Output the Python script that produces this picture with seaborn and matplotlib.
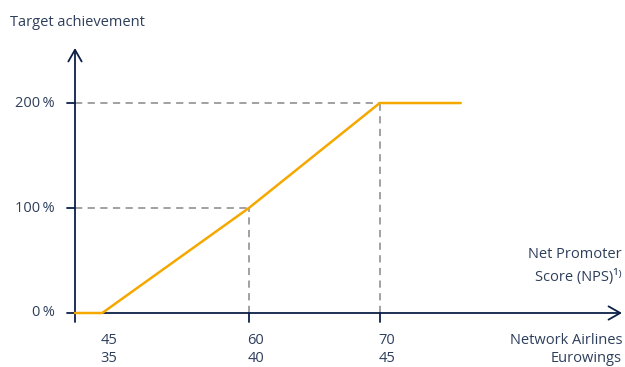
import numpy as np
import matplotlib
matplotlib.use("Agg")
import matplotlib.pyplot as plt
import seaborn as sns

# data
nps_network = [45, 60, 70]
nps_eurowings = [35, 40, 45]
achievement = [0, 100, 200]
tick_text_y = ["0\u2009%", "100\u2009%", "200\u2009%"]

# layout (schematic x positions for the three NPS thresholds)
tick_pos = [0.88, 2.0, 3.0]
x0, x_end, line_end = 0.672, 4.85, 3.618
y_max = 252.4

navy = "#0c2046"
text_c = "#2e3f5c"
orange = "#f5a800"
grey = "#9a9a9a"

sns.set_theme(style="white")
plt.rcParams["font.family"] = ["Open Sans", "DejaVu Sans"]

fig = plt.figure(figsize=(6.25, 3.67), dpi=100)
ax = fig.add_axes([75 / 625, 1 - 313 / 367, (622 - 75) / 625, (313 - 48) / 367])
ax.set_xlim(x0, x_end)
ax.set_ylim(0, y_max)
ax.axis("off")

# dashed guides
for xp, yv in zip(tick_pos[1:], achievement[1:]):
    ax.plot([x0, xp], [yv, yv], color=grey, lw=1.3, ls=(0, (4, 3)), zorder=1)
    ax.plot([xp, xp], [0, yv], color=grey, lw=1.3, ls=(0, (4, 3)), zorder=1)

# axes with arrows
px_x = (x_end - x0) / (622 - 75)
px_y = y_max / (313 - 48)
ax.annotate("", xy=(x_end, 0), xytext=(x0 - 8 * px_x, 0),
            arrowprops=dict(arrowstyle="->,head_length=0.7,head_width=0.4", color=navy, lw=1.3,
                            shrinkA=0, shrinkB=0), annotation_clip=False, zorder=2)
ax.annotate("", xy=(x0, y_max), xytext=(x0, -9 * px_y),
            arrowprops=dict(arrowstyle="->,head_length=0.7,head_width=0.4", color=navy, lw=1.3,
                            shrinkA=0, shrinkB=0), annotation_clip=False, zorder=2)

# ticks
for yv in achievement[1:]:
    ax.plot([x0 - 8 * px_x, x0], [yv, yv], color=navy, lw=1.3, clip_on=False, zorder=2)
for xp in tick_pos[1:]:
    ax.plot([xp, xp], [0, -9 * px_y], color=navy, lw=1.3, clip_on=False, zorder=2)

# target achievement curve
line_x = [x0] + tick_pos + [line_end]
line_y = [achievement[0]] + achievement + [achievement[-1]]
sns.lineplot(x=line_x, y=line_y, color=orange, lw=1.8, ax=ax, zorder=3,
             sort=False, estimator=None)
for ln in ax.lines[-1:]:
    ln.set_clip_on(False)

# labels
for yv, t in zip(achievement, tick_text_y):
    ax.text(x0 - 20 * px_x, yv, t, ha="right", va="center", fontsize=10.5, color=text_c)
for xp, a, b in zip(tick_pos, nps_network, nps_eurowings):
    ax.text(xp + 7 * px_x, -27 * px_y, str(a), ha="center", va="center", fontsize=10.5, color=text_c)
    ax.text(xp + 7 * px_x, -45 * px_y, str(b), ha="center", va="center", fontsize=10.5, color=text_c)

ax.text(x_end, -27 * px_y, "Network Airlines", ha="right", va="center", fontsize=10.5, color=text_c)
ax.text(x_end, -45 * px_y, "Eurowings", ha="right", va="center", fontsize=10.5, color=text_c)
ax.text(x_end, 58 * px_y, "Net Promoter", ha="right", va="center", fontsize=10.5, color=text_c)
ax.text(x_end, 36 * px_y, "Score (NPS)\u00b9\u207e", ha="right", va="center", fontsize=10.5, color=text_c)

fig.text(10 / 625, 1 - 22 / 367, "Target achievement", ha="left", va="center", fontsize=10.5, color=text_c)

fig.savefig("out.png", dpi=100)
